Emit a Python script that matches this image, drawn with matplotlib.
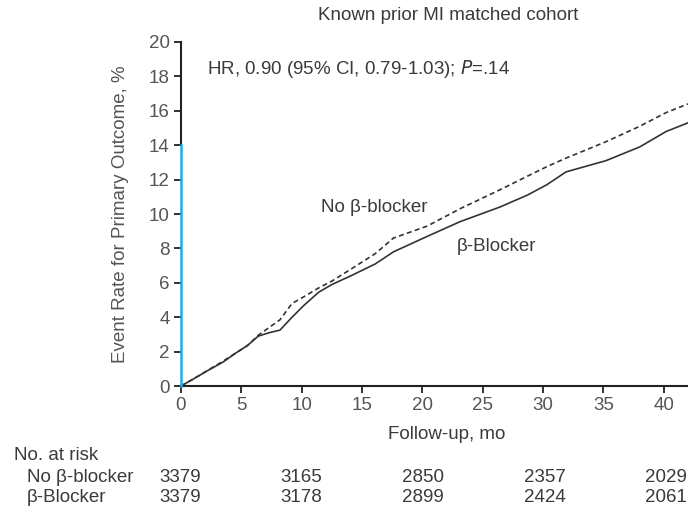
import numpy as np
import matplotlib.pyplot as plt

plt.rcParams['font.family'] = ['Liberation Sans', 'DejaVu Sans']

months = [0, 1, 2.3, 3.5, 4.5, 5.5, 6.4, 7.3, 8.2, 9.2, 10.2, 11.4, 12.5, 14.2,
          16.1, 17.6, 20.4, 23.1, 26.4, 28.7, 30.3, 31.9, 35.2, 38.0, 40.2, 42.0]
no_bb = [0, 0.4, 0.95, 1.45, 1.9, 2.35, 2.95, 3.4, 3.85, 4.8, 5.2, 5.7, 6.1, 6.85,
         7.7, 8.6, 9.3, 10.3, 11.4, 12.2, 12.75, 13.25, 14.2, 15.1, 15.9, 16.4]
bb = [0, 0.4, 0.93, 1.4, 1.9, 2.35, 2.9, 3.1, 3.25, 4.0, 4.7, 5.45, 5.9, 6.45,
      7.1, 7.8, 8.7, 9.55, 10.4, 11.1, 11.7, 12.45, 13.1, 13.9, 14.8, 15.3]

risk_months = [0, 10, 20, 30, 40]
risk_no_bb = [3379, 3165, 2850, 2357, 2029]
risk_bb = [3379, 3178, 2899, 2424, 2061]

txt = '#3a3a3a'
fs = 13.5

fig = plt.figure(figsize=(6.88, 5.12), dpi=100)
ax = fig.add_axes([0.263, 0.246, 0.737, 0.672])

ax.plot(months, no_bb, color='#333333', lw=1.2, ls=(0, (3, 2)))
ax.plot(months, bb, color='#333333', lw=1.2)

ax.set_xlim(0, 42)
ax.set_ylim(0, 20)
ax.set_xticks(range(0, 41, 5))
ax.set_yticks(range(0, 21, 2))
for s in ['top', 'right']:
    ax.spines[s].set_visible(False)
ax.spines['bottom'].set_linewidth(1.5)
ax.spines['bottom'].set_color('#222222')
ax.spines['left'].set_linewidth(1.5)
ax.spines['left'].set_color('#222222')
ax.spines['left'].set_bounds(14, 20)
ax.plot([0, 0], [0, 14], color='#1aaee8', lw=1.8, clip_on=False, zorder=5)
ax.tick_params(direction='out', length=5, width=1.3, color='#222222',
               labelsize=fs, labelcolor='#555555', pad=3)

ax.set_xlabel('Follow-up, mo', fontsize=fs, color=txt)
ax.xaxis.set_label_coords(0.525, -0.115)
ax.set_ylabel('Event Rate for Primary Outcome, %', fontsize=fs, color='#555555', labelpad=14)

fig.text(448 / 688, 1 - 16 / 512, 'Known prior MI matched cohort', ha='center', va='center',
         fontsize=fs, color=txt)
ax.text(2.15, 18.45, 'HR, 0.90 (95% CI, 0.79-1.03); $\\it{P}$=.14', fontsize=fs,
        color=txt, va='center')
ax.text(11.6, 10.35, 'No β-blocker', fontsize=fs, color=txt, va='center')
ax.text(22.85, 8.1, 'β-Blocker', fontsize=fs, color=txt, va='center')

fig.text(14 / 688, 1 - 455 / 512, 'No. at risk', fontsize=fs, color=txt, va='center')
fig.text(27 / 688, 1 - 477 / 512, 'No β-blocker', fontsize=fs, color=txt, va='center')
fig.text(27 / 688, 1 - 498 / 512, 'β-Blocker', fontsize=fs, color=txt, va='center')
for m, a, b in zip(risk_months, risk_no_bb, risk_bb):
    xf = (180 + m * 12.15) / 688
    fig.text(xf, 1 - 477 / 512, str(a), fontsize=fs, color=txt, ha='center', va='center')
    fig.text(xf, 1 - 498 / 512, str(b), fontsize=fs, color=txt, ha='center', va='center')

fig.savefig('out.png', dpi=100)
